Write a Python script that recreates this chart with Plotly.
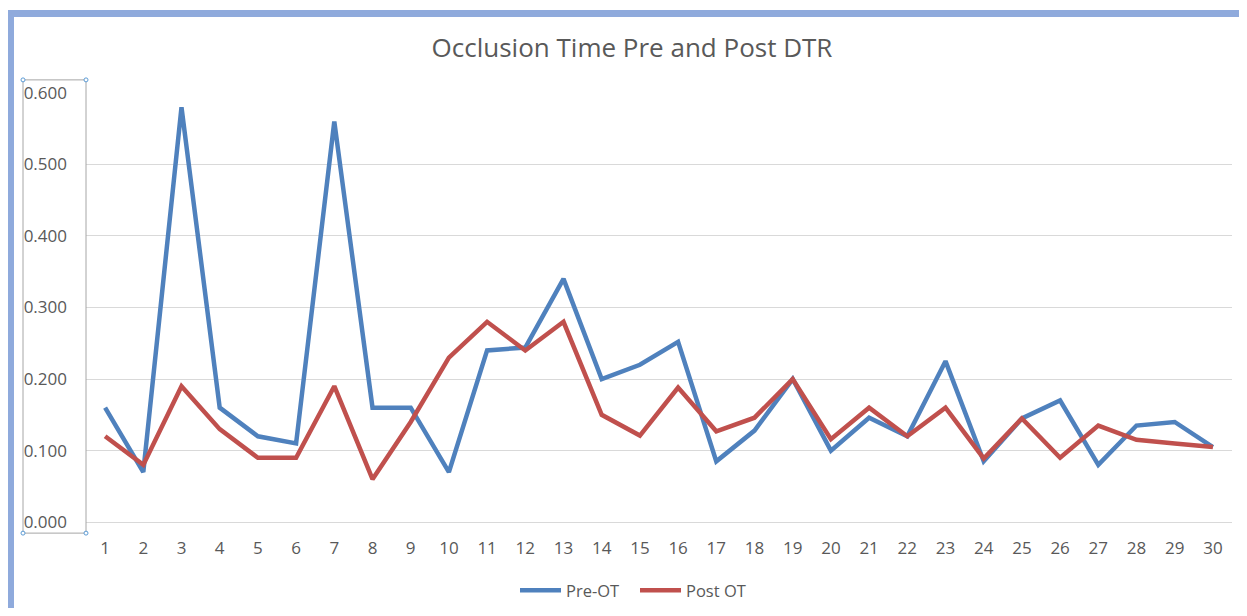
import plotly.graph_objects as go

categories = [str(i) for i in range(1, 31)]
pre_ot = [0.160, 0.070, 0.580, 0.160, 0.120, 0.110, 0.560, 0.160, 0.160, 0.070,
          0.240, 0.244, 0.340, 0.200, 0.220, 0.252, 0.085, 0.128, 0.200, 0.100,
          0.146, 0.120, 0.225, 0.085, 0.145, 0.170, 0.080, 0.135, 0.140, 0.105]
post_ot = [0.120, 0.080, 0.190, 0.130, 0.090, 0.090, 0.190, 0.060, 0.140, 0.230,
           0.280, 0.240, 0.280, 0.150, 0.121, 0.188, 0.127, 0.146, 0.200, 0.116,
           0.160, 0.120, 0.160, 0.089, 0.145, 0.090, 0.135, 0.115, 0.110, 0.105]
y_ticks = [0.0, 0.1, 0.2, 0.3, 0.4, 0.5, 0.6]
title_text = "Occlusion Time Pre and Post DTR"

# page body has an 8px margin; figure sized to fit inside the window
OFF = 8
W, H = 1231, 600
def px(x):
    return (x - OFF) / W
def py(y):
    return 1 - (y - OFF) / H

fig = go.Figure()
fig.add_trace(go.Scatter(x=categories, y=pre_ot, mode="lines", name="Pre-OT",
                         line=dict(color="#4F81BD", width=4.5)))
fig.add_trace(go.Scatter(x=categories, y=post_ot, mode="lines", name="Post OT",
                         line=dict(color="#C0504D", width=4.5)))

shapes = [
    dict(type="rect", xref="paper", yref="paper", x0=px(10.5), x1=px(1300),
         y0=py(700), y1=py(13.5), line=dict(color="#8FAADC", width=7),
         fillcolor="rgba(0,0,0,0)", layer="above"),
    dict(type="rect", xref="paper", yref="paper", x0=px(23), x1=px(86),
         y0=py(534), y1=py(80), line=dict(color="#A6A6A6", width=1),
         fillcolor="rgba(0,0,0,0)", layer="above"),
]
for cx, cy in [(23, 80), (86, 80), (23, 534), (86, 534)]:
    shapes.append(dict(type="circle", xref="paper", yref="paper",
                       x0=px(cx - 2), x1=px(cx + 2), y0=py(cy + 2), y1=py(cy - 2),
                       line=dict(color="#5B9BD5", width=1), fillcolor="white",
                       layer="above"))

fig.update_layout(
    width=W, height=H,
    margin=dict(l=0, r=0, t=0, b=0, pad=0),
    paper_bgcolor="white", plot_bgcolor="white",
    font=dict(family="Open Sans, Liberation Sans, sans-serif", color="#595959", size=17),
    title=dict(text=title_text, x=px(632), xanchor="center", xref="paper",
               y=py(48), yanchor="middle", yref="paper", automargin=False,
               font=dict(size=26, color="#595959")),
    xaxis=dict(domain=[px(86), px(1232)], type="category", automargin=False,
               range=[-0.5, 29.5], showgrid=False, showline=True,
               linecolor="#D9D9D9", linewidth=1, ticks="", ticklabelstandoff=10,
               tickfont=dict(size=17, color="#595959")),
    yaxis=dict(domain=[py(523), py(93)], range=[0, 0.6], tickvals=y_ticks,
               automargin=False,
               tickformat=".3f", showgrid=True, gridcolor="#D9D9D9", gridwidth=1,
               zeroline=False, showline=False, ticks="", ticklabelstandoff=18,
               tickfont=dict(size=17, color="#595959")),
    legend=dict(orientation="h", x=px(520) - 5 / W, xanchor="left", y=py(591),
                yanchor="middle", font=dict(size=16.5, color="#595959"),
                entrywidth=64, entrywidthmode="pixels", itemwidth=41,
                bgcolor="rgba(0,0,0,0)"),
    shapes=shapes,
)

fig.write_html("out.html")
